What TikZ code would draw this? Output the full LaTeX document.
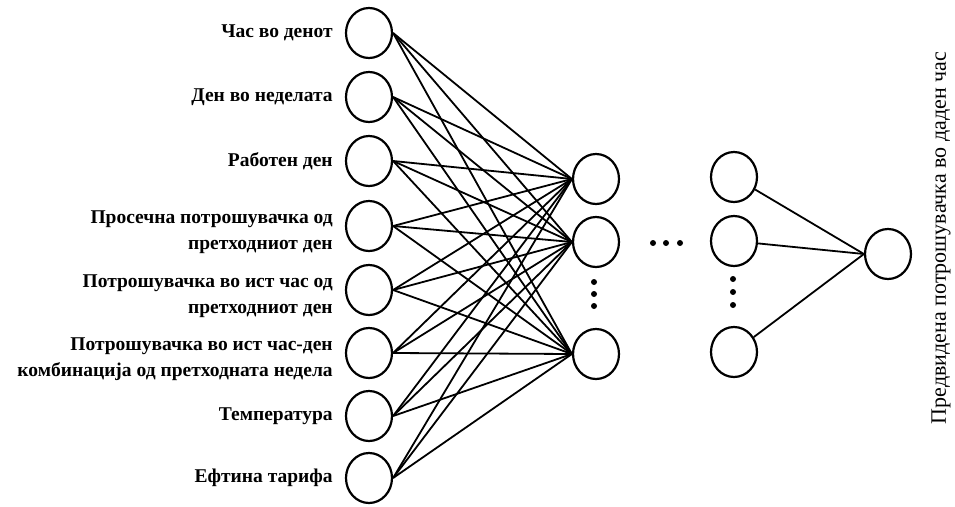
\documentclass[tikz,border=0pt]{standalone}
\usepackage{fontspec}
\setmainfont{Liberation Serif}
\usetikzlibrary{positioning}
\usetikzlibrary{shapes.geometric}

\begin{document}
\begin{tikzpicture}[x=1pt,y=-1pt,
		neuron/.style={draw,ellipse,line width=2.2pt,minimum width=46pt,minimum height=50pt,inner sep=0pt},
		lbl/.style={font=\bfseries\fontsize{19.5}{26}\selectfont,align=right,inner sep=0pt},
		dot/.style={circle,fill,inner sep=0pt,minimum size=6pt},
		wire/.style={line width=1.8pt}]
		\useasboundingbox (0,0) rectangle (955,506);
		% input layer
		\node[neuron] (i1) at (369,33) {};
		\node[neuron] (i2) at (369,97) {};
		\node[neuron] (i3) at (369,161) {};
		\node[neuron] (i4) at (369,226) {};
		\node[neuron] (i5) at (369,290) {};
		\node[neuron] (i6) at (369,353) {};
		\node[neuron] (i7) at (369,416) {};
		\node[neuron] (i8) at (369,478) {};
		\node[lbl,left=12pt of i1] (t1) {Час во денот};
		\node[lbl,left=12pt of i2] (t2) {Ден во неделата};
		\node[lbl,left=12pt of i3] (t3) {Работен ден};
		\node[lbl,left=12pt of i4,yshift=-6pt] (t4) {Просечна потрошувачка од\\претходниот ден};
		\node[lbl,left=12pt of i5,yshift=-6pt] (t5) {Потрошувачка во ист час од\\претходниот ден};
		\node[lbl,left=12pt of i6,yshift=-6pt] (t6) {Потрошувачка во ист час-ден\\комбинација од претходната недела};
		\node[lbl,left=12pt of i7] (t7) {Температура};
		\node[lbl,left=12pt of i8] (t8) {Ефтина тарифа};
		% hidden layers
		\node[neuron] (h1) at (596,179) {};
		\node[neuron] (h2) at (596,242) {};
		\node[neuron] (h3) at (596,354) {};
		\node[neuron] (g1) at (734,177) {};
		\node[neuron] (g2) at (734,241) {};
		\node[neuron] (g3) at (734,352) {};
		\node[dot] (hd1) at (594,282) {};
		\node[dot] (hd2) at (594,294) {};
		\node[dot] (hd3) at (594,306) {};
		\node[dot] (gd1) at (733,279) {};
		\node[dot] (gd2) at (733,292) {};
		\node[dot] (gd3) at (733,305) {};
		\node[dot] (md1) at (653,243) {};
		\node[dot] (md2) at (666,243) {};
		\node[dot] (md3) at (680,243) {};
		% output
		\node[neuron] (o) at (888,254) {};
		\node[font=\fontsize{22}{26}\selectfont,rotate=90] (out) at (941,238) {Предвидена потрошувачка во даден час};
		\foreach \i in {1,...,8}
			\foreach \j in {1,2,3}
				\draw[wire] (i\i.east) -- (h\j.west);
		\draw[wire] (g1) -- (o.west);
		\draw[wire] (g2) -- (o.west);
		\draw[wire] (g3) -- (o.west);
\end{tikzpicture}
\end{document}
